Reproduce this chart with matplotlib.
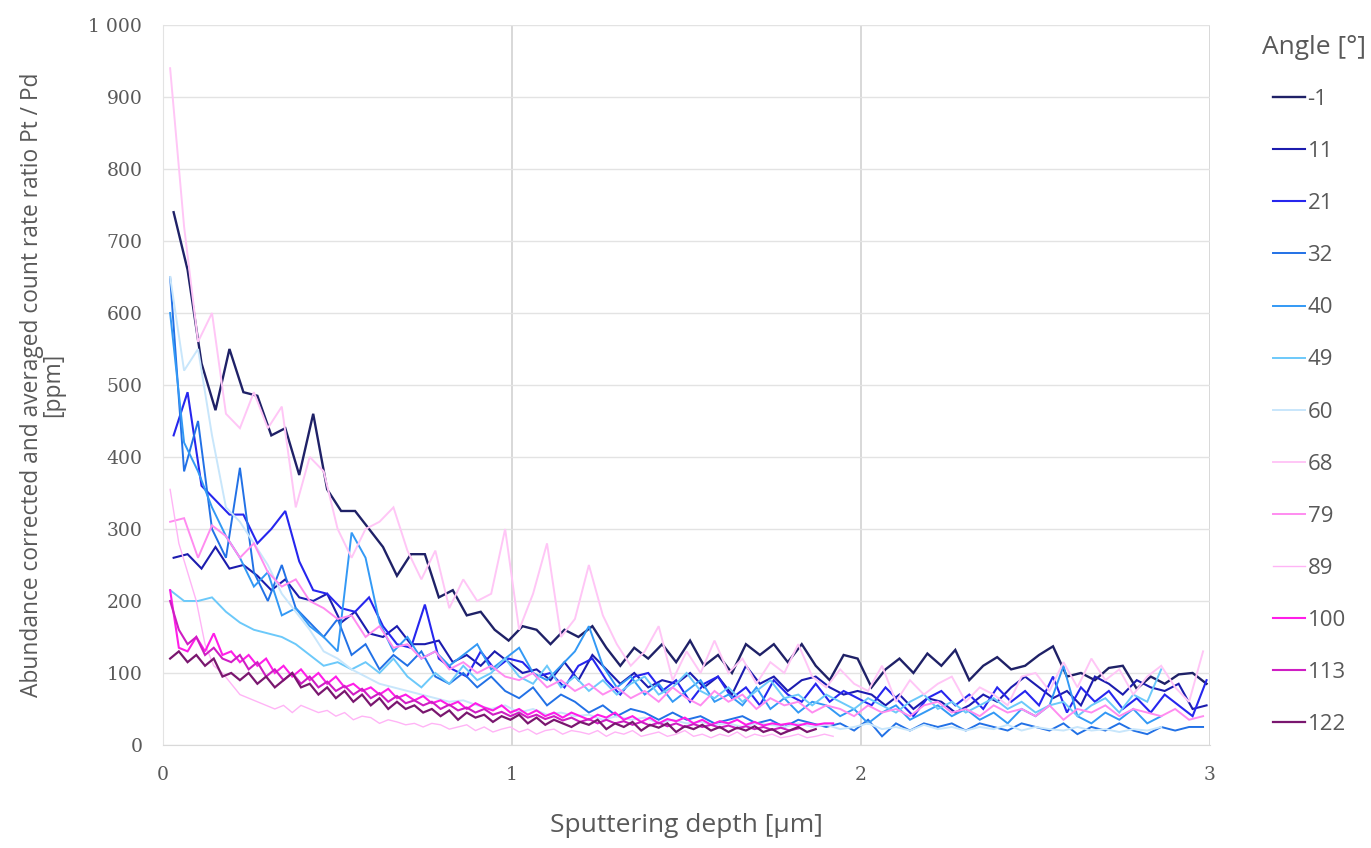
import numpy as np
import matplotlib
matplotlib.use("Agg")
import matplotlib.pyplot as plt

# angles and colours of the 13 series
angles = ["-1", "11", "21", "32", "40", "49", "60", "68", "79", "89", "100", "113", "122"]
colors = ["#1f2167", "#1c1cae", "#2626ee", "#2271e6", "#3399f5", "#6cc9fa", "#c8e6fb",
          "#ffc6f6", "#ff8cf0", "#ffb4f6", "#ff1ee8", "#cf1ec3", "#7a176f"]
widths = [1.7, 1.5, 1.5, 1.4, 1.4, 1.4, 1.4, 1.4, 1.4, 1.0, 1.5, 1.5, 1.6]

# sampling of sputtering depth [um] per series: first point and step
start = [0.03, 0.03, 0.03, 0.02, 0.02, 0.02, 0.02, 0.02, 0.02, 0.02, 0.02, 0.02, 0.02]
step = [0.04, 0.04, 0.04, 0.04, 0.04, 0.04, 0.04, 0.04, 0.04, 0.025, 0.025, 0.025, 0.025]

# ratio Pt/Pd [ppm]
r_m1 = [740, 660, 530, 465, 550, 490, 485, 430, 440, 375, 460, 355, 325, 325, 300, 275, 235, 265, 265, 205,
        215, 180, 185, 160, 145, 165, 160, 140, 160, 150, 165, 135, 110, 135, 120, 140, 115, 145, 110, 125,
        100, 140, 125, 140, 115, 140, 110, 90, 125, 120, 80, 105, 120, 100, 127, 110, 132, 90, 110, 122,
        105, 110, 125, 137, 95, 100, 90, 107, 110, 78, 95, 85, 98, 100, 85]
r_11 = [260, 265, 245, 275, 245, 250, 235, 215, 230, 205, 200, 210, 170, 185, 155, 150, 165, 140, 140, 145,
        115, 125, 110, 130, 115, 100, 105, 90, 115, 90, 125, 105, 85, 100, 80, 90, 85, 100, 80, 95,
        70, 110, 85, 95, 75, 90, 95, 80, 70, 75, 70, 55, 70, 50, 65, 60, 45, 55, 70, 60,
        80, 95, 80, 65, 75, 55, 95, 85, 70, 90, 80, 75, 85, 50, 55]
r_21 = [430, 490, 360, 340, 320, 320, 280, 300, 325, 255, 215, 210, 190, 185, 205, 165, 140, 135, 195, 120,
        105, 95, 130, 105, 120, 115, 95, 100, 80, 110, 120, 90, 70, 95, 100, 75, 90, 60, 85, 95,
        65, 80, 55, 90, 70, 60, 85, 60, 75, 65, 55, 80, 60, 40, 65, 75, 55, 70, 50, 80,
        60, 75, 55, 95, 45, 80, 60, 75, 50, 65, 45, 70, 55, 40, 90]
r_32 = [650, 380, 450, 300, 260, 385, 240, 200, 250, 190, 170, 150, 175, 125, 140, 105, 125, 110, 130, 95,
        85, 100, 80, 95, 75, 65, 80, 55, 70, 60, 45, 55, 40, 50, 45, 35, 45, 35, 40, 30,
        35, 40, 30, 35, 25, 35, 30, 25, 30, 20, 35, 12, 30, 20, 30, 25, 30, 20, 30, 25,
        20, 30, 25, 20, 30, 15, 25, 20, 30, 20, 15, 25, 20, 25, 25]
r_40 = [600, 420, 380, 330, 290, 260, 220, 240, 180, 190, 165, 150, 130, 295, 260, 170, 130, 150, 120, 130,
        110, 125, 140, 105, 120, 135, 100, 90, 110, 130, 165, 110, 80, 95, 70, 85, 60, 75, 90, 60,
        70, 55, 80, 50, 65, 45, 60, 55, 40, 50, 30, 45, 55, 35, 45, 55, 40, 50, 35, 45,
        30, 50, 40, 55, 110, 40, 30, 45, 35, 50, 30, 40]
r_49 = [215, 200, 200, 205, 185, 170, 160, 155, 150, 140, 125, 110, 115, 105, 115, 100, 120, 95, 80, 100,
        85, 110, 90, 100, 120, 95, 85, 110, 80, 95, 75, 90, 70, 85, 95, 70, 80, 100, 75, 65,
        80, 60, 75, 90, 65, 70, 55, 70, 60, 50, 65, 55, 45, 60, 70, 50, 60, 45, 55, 65,
        50, 60, 45, 55, 60, 40, 55, 65, 45, 70, 60, 105]
r_60 = [650, 520, 550, 430, 330, 310, 280, 250, 210, 185, 160, 130, 120, 105, 95, 85, 80, 75, 70, 65,
        60, 62, 55, 50, 55, 45, 50, 42, 45, 40, 42, 35, 40, 35, 38, 30, 35, 30, 32, 28,
        30, 25, 30, 28, 25, 30, 25, 28, 22, 25, 30, 22, 25, 20, 28, 22, 25, 20, 25, 22,
        28, 20, 25, 22, 20, 25, 20, 22, 18, 22, 20, 25]
r_68 = [940, 720, 560, 600, 460, 440, 490, 440, 470, 330, 400, 380, 300, 260, 300, 310, 330, 270, 230, 270,
        190, 230, 200, 210, 300, 160, 210, 280, 150, 175, 250, 180, 140, 110, 130, 165, 90, 130, 100, 145,
        100, 120, 85, 115, 100, 140, 95, 80, 105, 85, 75, 110, 60, 90, 70, 85, 95, 60, 80, 70,
        55, 95, 100, 75, 115, 80, 120, 90, 105, 70, 95, 110, 80, 60, 130]
r_79 = [310, 315, 260, 305, 290, 260, 280, 240, 220, 230, 200, 190, 175, 180, 150, 165, 135, 140, 120, 130,
        105, 115, 100, 110, 95, 90, 100, 80, 90, 75, 85, 70, 80, 65, 75, 60, 80, 65, 55, 75,
        60, 70, 50, 65, 55, 60, 45, 55, 50, 40, 55, 45, 50, 40, 55, 60, 45, 50, 40, 55,
        45, 50, 40, 55, 35, 50, 45, 55, 40, 50, 45, 40, 50, 35, 40]
r_89 = [355, 280, 240, 200, 140, 110, 100, 85, 70, 65, 60, 55, 50, 55, 45, 55, 50, 45, 48, 40,
        45, 35, 40, 38, 30, 35, 32, 28, 30, 25, 30, 28, 22, 25, 28, 20, 25, 18, 22, 25,
        18, 22, 15, 20, 22, 15, 20, 18, 15, 20, 12, 18, 15, 20, 12, 15, 18, 12, 15, 20,
        12, 15, 10, 15, 12, 18, 10, 15, 12, 15, 10, 12, 15, 10, 12, 15, 12]
r_100 = [215, 135, 130, 150, 130, 155, 125, 130, 115, 125, 110, 120, 100, 110, 95, 105, 90, 100, 85, 95,
         80, 85, 75, 80, 70, 78, 65, 70, 62, 68, 58, 62, 55, 60, 50, 58, 52, 48, 55, 45,
         50, 42, 48, 40, 45, 38, 45, 40, 35, 42, 38, 45, 35, 40, 32, 38, 30, 36, 33, 38,
         30, 35, 28, 33, 30, 35, 28, 32, 27, 30, 28, 30, 27, 30, 28, 30, 30]
r_113 = [200, 160, 140, 150, 125, 135, 120, 115, 125, 105, 115, 95, 105, 90, 100, 85, 95, 80, 88, 75,
         82, 70, 78, 65, 72, 60, 68, 58, 62, 55, 60, 50, 56, 48, 52, 45, 50, 42, 46, 40,
         45, 38, 42, 36, 40, 34, 38, 32, 36, 30, 35, 30, 33, 28, 32, 27, 31, 26, 30, 25,
         29, 25, 28, 24, 27, 23, 26, 22, 25, 21, 24, 20, 23]
r_122 = [120, 130, 115, 125, 110, 120, 95, 100, 90, 100, 85, 95, 80, 90, 100, 80, 85, 70, 80, 65,
         75, 60, 70, 55, 65, 50, 60, 50, 55, 45, 50, 40, 48, 35, 45, 38, 42, 32, 40, 35,
         42, 30, 38, 28, 35, 30, 25, 32, 28, 35, 22, 30, 25, 32, 20, 28, 24, 30, 18, 26,
         22, 28, 20, 25, 18, 24, 20, 26, 18, 22, 15, 20, 25, 18, 22]

ratios = [r_m1, r_11, r_21, r_32, r_40, r_49, r_60, r_68, r_79, r_89, r_100, r_113, r_122]

grey = "#595959"
tick_font = "DejaVu Serif"
text_font = "Open Sans"

fig = plt.figure(figsize=(13.71, 8.48), dpi=100)
ax = fig.add_axes([0.119, 0.1215, 0.7636, 0.849])

for lab, col, lw, x0, dx, vals in zip(angles, colors, widths, start, step, ratios):
    depth = x0 + dx * np.arange(len(vals))
    ax.plot(depth, vals, color=col, lw=lw, label=lab, solid_joinstyle="miter")

ax.set_xlim(0, 3)
ax.set_ylim(0, 1000)
ax.set_xticks([0, 1, 2, 3])
ax.set_yticks(np.arange(0, 1001, 100))
ax.set_yticklabels(["0", "100", "200", "300", "400", "500", "600", "700", "800", "900", "1 000"])
ax.yaxis.grid(True, color="#e3e3e3", lw=1.0)
ax.xaxis.grid(True, color="#d6d6d6", lw=1.3)
ax.set_axisbelow(True)
for s in ["top", "right"]:
    ax.spines[s].set_visible(False)
ax.spines["left"].set_color("#e3e3e3")
ax.spines["bottom"].set_color("#d9d9d9")
ax.tick_params(length=0, pad=15, labelsize=13.5, labelcolor=grey)
for t in ax.get_xticklabels() + ax.get_yticklabels():
    t.set_fontfamily(tick_font)

ax.set_xlabel("Sputtering depth [µm]", fontsize=19, color=grey, family=text_font)
ax.xaxis.set_label_coords(0.5, -0.095)
ax.set_ylabel("Abundance corrected and averaged count rate ratio Pt / Pd\n[ppm]",
              fontsize=16.4, color=grey, family=text_font, linespacing=0.8)
ax.yaxis.set_label_coords(-0.094, 0.5)

fig.text(1262 / 1371, 1 - 48 / 848, "Angle [°]", fontsize=19, color=grey, family=text_font,
         ha="left", va="center")
leg = fig.legend(loc="center left", bbox_to_anchor=(0.914, 1 - 412 / 848), frameon=False,
                 handlelength=1.45, handletextpad=0.1, labelspacing=1.4,
                 prop={"family": text_font, "size": 16})
for t in leg.get_texts():
    t.set_color(grey)

fig.savefig("out.png", dpi=100)
